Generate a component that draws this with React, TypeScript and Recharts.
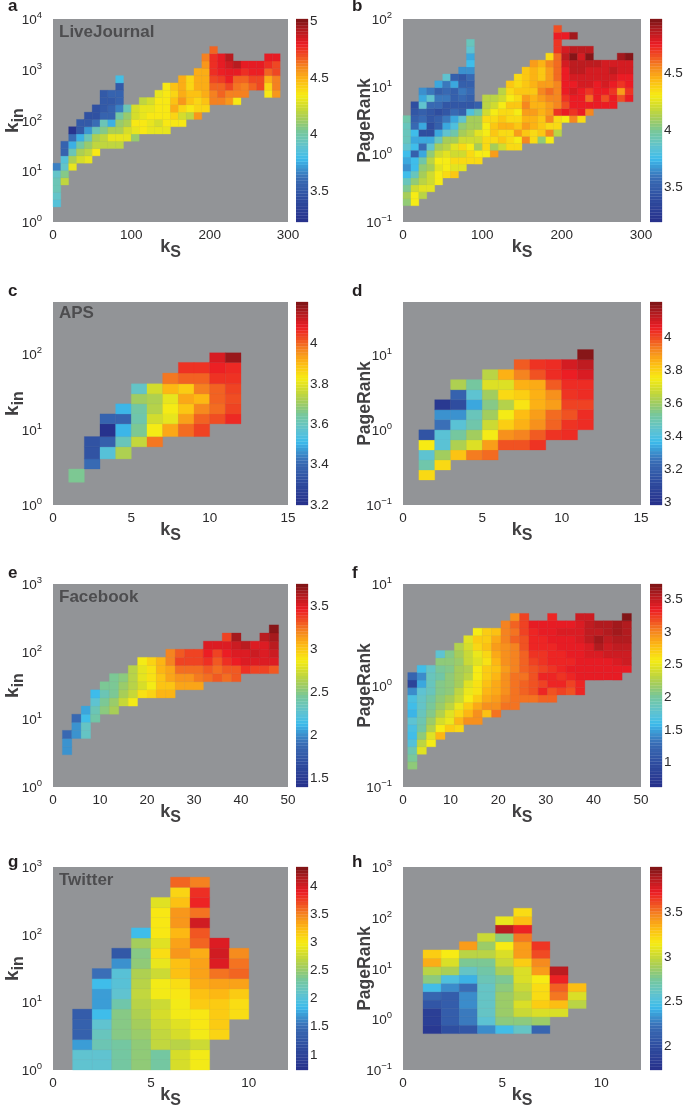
import React from "react";
import { ScatterChart, XAxis, YAxis, ReferenceArea } from "recharts";

type Col = [number, number, number[]]; // column index, first row index, values going up

const FONT = "Liberation Sans";
const GRAY = "#929497";
const TEXT = "#2b2a2b";
const LABEL = "#414042";

// colours as printed in the colour bars (jet, after the journal's colour conversion)
const JET: [number, string][] = [
  [0, "#27318c"], [0.12, "#2f4ea0"], [0.22, "#3a6fb7"], [0.31, "#3cbcec"], [0.37, "#60c3d0"],
  [0.44, "#74c7a0"], [0.51, "#a5cd5a"], [0.58, "#d8de28"], [0.625, "#f7ec14"], [0.7, "#fdb913"],
  [0.77, "#f58220"], [0.83, "#ef4423"], [0.875, "#ec1c24"], [0.94, "#b71c20"], [1, "#7b1416"],
];
const BAR_LEVELS = 64;

const hex = (s: string) => [1, 3, 5].map(i => parseInt(s.slice(i, i + 2), 16));
const jet = (t: number) => {
  const v = Math.min(1, Math.max(0, t));
  for (let i = 1; i < JET.length; i++) {
    if (v <= JET[i][0]) {
      const f = (v - JET[i - 1][0]) / (JET[i][0] - JET[i - 1][0]);
      const a = hex(JET[i - 1][1]);
      const b = hex(JET[i][1]);
      return `rgb(${a.map((c, k) => Math.round(c + (b[k] - c) * f)).join(",")})`;
    }
  }
  return JET[JET.length - 1][1];
};

// a: LiveJournal
const aEdges = [1.98, 2.76, 3.84, 5.35, 7.44, 10.4, 14.4, 20.1, 28, 39, 54.2, 75.5, 105, 146, 204, 284, 395, 550, 766, 1067, 1485, 2068, 2880];
const aCols: Col[] = [
  [0, 0, [3.85, 3.9, 3.95, 3.95, 3.9, 3.65]],
  [1, 3, [4.2, 4.05, 3.9, 3.85, 3.55, 3.55]],
  [2, 5, [4.3, 4.15, 3.95, 3.75, 3.6, 3.25]],
  [3, 6, [4.25, 4.15, 4.0, 3.75, 3.5, 3.5]],
  [4, 6, [4.3, 4.2, 4.1, 3.95, 3.7, 3.5, 3.45]],
  [5, 7, [4.35, 4.2, 4.15, 3.95, 3.6, 3.45, 3.45]],
  [6, 8, [4.2, 4.2, 4.05, 3.95, 3.55, 3.5, 3.5, 3.5]],
  [7, 8, [4.2, 4.3, 4.15, 3.75, 3.55, 3.55, 3.5, 3.55]],
  [8, 8, [4.2, 4.3, 4.15, 4.1, 4.0, 3.65, 3.55, 3.55, 3.5, 3.8]],
  [9, 9, [4.3, 4.25, 4.15, 4.1, 3.95]],
  [10, 9, [4.1, 4.3, 4.35, 4.25, 4.25]],
  [11, 10, [4.35, 4.35, 4.3, 4.3, 4.2]],
  [12, 10, [4.3, 4.3, 4.35, 4.3, 4.25]],
  [13, 10, [4.3, 4.25, 4.35, 4.35, 4.35, 4.3]],
  [14, 10, [4.3, 4.35, 4.35, 4.35, 4.35, 4.35, 4.35]],
  [15, 11, [4.35, 4.4, 4.5, 4.45, 4.4, 4.45]],
  [16, 11, [4.35, 4.25, 4.4, 4.55, 4.5, 4.5, 4.5]],
  [17, 12, [4.2, 4.35, 4.45, 4.45, 4.4, 4.4]],
  [18, 12, [4.55, 4.4, 4.4, 4.45, 4.5, 4.5, 4.5]],
  [19, 13, [4.4, 4.45, 4.5, 4.5, 4.5, 4.5, 4.55, 4.6]],
  [20, 14, [4.6, 4.6, 4.65, 4.7, 4.75, 4.75, 4.75, 4.65]],
  [21, 14, [4.6, 4.65, 4.65, 4.72, 4.78, 4.8, 4.8]],
  [22, 14, [4.55, 4.6, 4.7, 4.78, 4.8, 4.85, 4.9]],
  [23, 14, [4.35, 4.6, 4.62, 4.65, 4.8, 4.9]],
  [24, 15, [4.6, 4.6, 4.65, 4.75, 4.8]],
  [25, 16, [4.65, 4.7, 4.78, 4.8]],
  [26, 16, [4.7, 4.7, 4.78, 4.8]],
  [27, 15, [4.35, 4.4, 4.5, 4.65, 4.75, 4.8]],
  [28, 15, [4.55, 4.6, 4.6, 4.7, 4.7, 4.8]],
];

// b: LiveJournal PageRank
const bEdges = [0.174, 0.22, 0.279, 0.353, 0.447, 0.566, 0.717, 0.907, 1.149, 1.455, 1.842, 2.33, 2.95, 3.74, 4.73, 5.99, 7.58, 9.6, 12.2, 15.4, 19.5, 24.7, 31.3, 39.6, 50.1, 63.5, 80.4];
const bCols: Col[] = [
  [0, 0, [4.05, 4.1, 4.0, 3.9, 3.75, 3.65, 3.7, 3.75, 3.85, 3.9, 3.9, 3.9, 3.95]],
  [1, 0, [4.3, 4.3, 4.2, 4.05, 3.9, 3.75, 3.75, 3.5, 3.75, 3.7, 3.75, 3.55, 3.5, 3.45, 3.4]],
  [2, 1, [4.15, 4.25, 4.15, 4.1, 4.05, 3.95, 3.7, 3.55, 3.7, 3.4, 3.7, 3.55, 3.5, 3.85, 3.7, 3.65]],
  [3, 2, [4.25, 4.2, 4.2, 4.1, 4.15, 4.05, 3.85, 3.7, 3.4, 3.4, 3.45, 3.45, 3.55, 3.85, 3.6]],
  [4, 3, [4.3, 4.3, 4.25, 4.3, 4.2, 4.1, 3.9, 3.7, 3.5, 3.5, 3.4, 3.55, 3.6, 3.5, 3.7]],
  [5, 4, [4.35, 4.3, 4.3, 4.25, 4.15, 4.1, 3.85, 3.7, 3.6, 3.45, 3.45, 3.6, 3.55, 3.6, 3.85]],
  [6, 4, [4.4, 4.25, 4.35, 4.2, 4.25, 4.1, 3.95, 3.8, 3.7, 3.55, 3.45, 3.5, 3.5, 3.7, 3.5]],
  [7, 5, [4.25, 4.35, 4.2, 4.35, 4.2, 4.1, 4.05, 3.85, 3.5, 3.45, 3.55, 3.6, 3.5, 3.45, 3.65]],
  [8, 6, [4.35, 4.35, 4.3, 4.2, 4.15, 4.1, 4.1, 3.8, 3.45, 3.5, 3.55, 3.5, 3.55, 3.65, 3.75, 3.7, 3.85, 3.9]],
  [9, 6, [4.35, 4.3, 4.1, 4.2, 4.25, 4.1, 4.1, 3.95, 3.5]],
  [10, 7, [4.3, 4.35, 4.35, 4.3, 4.3, 4.35, 4.2, 4.15, 4.15]],
  [11, 7, [4.5, 4.1, 4.35, 4.4, 4.4, 4.35, 4.3, 4.2, 4.15]],
  [12, 8, [4.2, 4.4, 4.35, 4.45, 4.4, 4.35, 4.3, 4.2, 4.15]],
  [13, 8, [4.35, 4.35, 4.35, 4.45, 4.35, 4.35, 4.4, 4.3, 4.35, 4.4]],
  [14, 8, [4.35, 4.3, 4.5, 4.4, 4.35, 4.3, 4.4, 4.35, 4.4, 4.35, 4.35]],
  [15, 9, [4.55, 4.4, 4.5, 4.45, 4.5, 4.55, 4.5, 4.4, 4.4, 4.4, 4.4]],
  [16, 9, [4.35, 4.35, 4.45, 4.45, 4.5, 4.45, 4.45, 4.4, 4.45, 4.45, 4.45, 4.5]],
  [17, 9, [4.05, 4.4, 4.4, 4.4, 4.45, 4.45, 4.5, 4.55, 4.5, 4.4, 4.4, 4.45]],
  [18, 9, [4.3, 4.55, 4.35, 4.55, 4.5, 4.5, 4.55, 4.6, 4.5, 4.5, 4.5, 4.55, 4.35]],
  [19, 10, [4.15, 4.35, 4.35, 4.7, 4.55, 4.55, 4.55, 4.55, 4.6, 4.6, 4.6, 4.6, 4.7, 4.7, 4.75, 4.65]],
  [20, 12, [4.3, 4.75, 4.65, 4.7, 4.75, 4.75, 4.75, 4.75, 4.8, 4.85, 4.8]],
  [20, 24, [4.75]],
  [21, 12, [4.55, 4.7, 4.75, 4.75, 4.8, 4.75, 4.8, 4.85, 4.85, 4.95, 4.85]],
  [21, 24, [4.9]],
  [22, 12, [4.35, 4.75, 4.75, 4.75, 4.75, 4.8, 4.8, 4.85, 4.85, 4.8, 4.85]],
  [23, 13, [4.55, 4.75, 4.6, 4.7, 4.8, 4.8, 4.8, 4.85, 4.95, 4.85]],
  [24, 14, [4.75, 4.75, 4.75, 4.75, 4.8, 4.8, 4.85]],
  [25, 14, [4.75, 4.65, 4.75, 4.8, 4.8, 4.8, 4.8]],
  [26, 14, [4.75, 4.75, 4.7, 4.75, 4.8, 4.85, 4.8]],
  [27, 15, [4.65, 4.5, 4.7, 4.75, 4.8, 4.8, 4.9]],
  [28, 15, [4.75, 4.7, 4.75, 4.75, 4.8, 4.8, 4.95]],
];

// c: APS
const cEdges = [2, 3, 4.08, 5.9, 8.07, 11.9, 16.1, 21.9, 29.7, 40.4, 56, 77.5, 104];
const cCols: Col[] = [
  [1, 0, [3.65]],
  [2, 1, [3.4, 3.33, 3.33]],
  [3, 2, [3.55, 3.37, 3.2, 3.38]],
  [4, 2, [3.72, 3.6, 3.5, 3.38, 3.5]],
  [5, 3, [3.75, 3.65, 3.62, 3.63, 3.7, 3.58]],
  [6, 3, [3.98, 3.82, 3.77, 3.73, 3.72, 3.77]],
  [7, 4, [3.92, 3.8, 3.82, 3.8, 3.9, 3.98]],
  [8, 4, [3.99, 3.93, 3.88, 3.92, 3.87, 4.0, 4.05]],
  [9, 4, [4.03, 4.0, 3.96, 3.9, 3.97, 4.0, 4.05]],
  [10, 5, [4.02, 3.99, 4.0, 4.0, 4.05, 4.07, 4.1]],
  [11, 5, [4.06, 4.03, 4.02, 4.03, 4.05, 4.06, 4.17]],
];

// d: APS PageRank
const dEdges = [0.215, 0.292, 0.397, 0.539, 0.733, 1, 1.36, 1.85, 2.51, 3.41, 4.64, 6.31, 8.58, 11.66];
const dCols: Col[] = [
  [1, 0, [3.78, 3.5, 3.43, 3.75, 3.15]],
  [2, 1, [3.78, 3.6, 3.42, 3.42, 3.25, 3.3, 3.02]],
  [3, 2, [3.82, 3.62, 3.52, 3.42, 3.3, 3.12, 3.2, 3.62]],
  [4, 2, [3.93, 3.7, 3.6, 3.5, 3.47, 3.33, 3.43, 3.52]],
  [5, 2, [3.95, 3.88, 3.74, 3.67, 3.6, 3.55, 3.6, 3.7, 3.64]],
  [6, 3, [3.98, 3.9, 3.8, 3.74, 3.63, 3.78, 3.7, 3.85]],
  [7, 3, [3.98, 3.92, 3.85, 3.83, 3.76, 3.8, 3.85, 3.92, 3.97]],
  [8, 3, [4.02, 3.97, 3.9, 3.88, 3.85, 3.85, 3.86, 3.98, 4.02]],
  [9, 4, [4.02, 3.96, 3.95, 3.88, 3.9, 3.97, 4.03, 4.03]],
  [10, 4, [4.03, 4.02, 3.98, 4.0, 4.02, 4.03, 4.05, 4.09]],
  [11, 5, [4.03, 4.03, 4.0, 4.03, 4.03, 4.08, 4.12, 4.19]],
];

// e: Facebook
const eEdges = [3, 3.95, 5.21, 6.87, 9.05, 11.9, 15.7, 20.7, 27.3, 36, 47.4, 62.5, 82.4, 108.6, 143, 188.6, 248.6];
const eCols: Col[] = [
  [1, 0, [2.0, 2.0, 1.85]],
  [2, 2, [2.0, 2.0, 1.85]],
  [3, 2, [2.3, 2.3, 2.13, 2.05]],
  [4, 4, [2.4, 2.35, 2.25, 2.12]],
  [5, 5, [2.5, 2.45, 2.35, 2.45]],
  [6, 5, [2.6, 2.55, 2.45, 2.45, 2.45]],
  [7, 6, [2.7, 2.6, 2.55, 2.5]],
  [8, 6, [2.85, 2.7, 2.65, 2.65, 2.65]],
  [9, 7, [2.9, 2.75, 2.8, 2.8, 2.85]],
  [10, 7, [2.95, 2.85, 2.9, 2.9, 2.95]],
  [11, 7, [3.05, 3.0, 3.0, 3.05, 3.05]],
  [12, 7, [3.05, 3.0, 3.1, 3.1, 3.2, 3.2]],
  [13, 8, [3.1, 3.15, 3.25, 3.35, 3.3]],
  [14, 8, [3.1, 3.15, 3.25, 3.35, 3.35]],
  [15, 8, [3.1, 3.22, 3.25, 3.35, 3.35]],
  [16, 9, [3.25, 3.3, 3.4, 3.45, 3.5]],
  [17, 9, [3.3, 3.25, 3.3, 3.35, 3.5]],
  [18, 9, [3.25, 3.3, 3.4, 3.45, 3.5, 3.35]],
  [19, 9, [3.3, 3.3, 3.45, 3.5, 3.55, 3.65]],
  [20, 10, [3.4, 3.5, 3.5, 3.6]],
  [21, 10, [3.35, 3.5, 3.55, 3.5]],
  [22, 10, [3.35, 3.5, 3.5, 3.5, 3.6]],
  [23, 10, [3.3, 3.5, 3.55, 3.6, 3.65, 3.72]],
];

// f: Facebook PageRank
const fEdges = [0.15, 0.178, 0.21, 0.249, 0.294, 0.348, 0.412, 0.487, 0.576, 0.682, 0.807, 0.954, 1.13, 1.34, 1.58, 1.87, 2.21, 2.62, 3.1, 3.67, 4.34, 5.13];
const fCols: Col[] = [
  [0, 0, [2.1, 2.0, 1.9, 1.7, 1.6, 1.65, 1.75, 1.55, 1.6, 1.65, 1.4, 0.85, 1.2]],
  [1, 2, [2.45, 2.3, 2.1, 1.95, 1.9, 1.85, 1.8, 1.8, 1.75, 1.5, 1.4, 1.6]],
  [2, 3, [2.55, 2.45, 2.25, 2.15, 2.05, 2.0, 1.95, 1.85, 1.85, 1.85, 1.8]],
  [3, 4, [2.8, 2.55, 2.4, 2.25, 2.15, 2.1, 2.05, 2.05, 1.95, 2.0, 2.1, 1.75]],
  [4, 5, [2.7, 2.5, 2.45, 2.3, 2.2, 2.1, 2.1, 2.1, 2.05, 2.1, 2.05]],
  [5, 5, [2.65, 2.8, 2.65, 2.5, 2.35, 2.3, 2.2, 2.2, 2.2, 2.15, 2.2, 2.25]],
  [6, 6, [2.95, 2.8, 2.7, 2.55, 2.5, 2.45, 2.3, 2.25, 2.35, 2.35, 2.4, 2.45]],
  [7, 6, [2.95, 2.95, 2.85, 2.7, 2.6, 2.6, 2.55, 2.55, 2.45, 2.5, 2.65, 2.7, 2.55]],
  [8, 7, [2.75, 2.95, 2.85, 2.8, 2.75, 2.7, 2.7, 2.6, 2.65, 2.75, 2.7, 2.7]],
  [9, 7, [3.05, 2.95, 2.9, 2.85, 2.85, 2.8, 2.75, 2.8, 2.85, 2.9, 2.85, 2.75]],
  [10, 8, [3.05, 3.0, 2.95, 2.95, 2.95, 2.9, 2.95, 2.95, 2.95, 3.0, 3.0, 3.0]],
  [11, 8, [3.05, 3.05, 3.05, 3.05, 3.05, 3.0, 3.0, 3.0, 3.0, 3.1, 3.05, 3.1, 2.95]],
  [12, 9, [3.05, 3.1, 3.1, 3.05, 3.1, 3.1, 3.1, 3.15, 3.15, 3.2, 3.2, 3.2]],
  [13, 9, [3.05, 3.15, 3.15, 3.15, 3.15, 3.2, 3.25, 3.3, 3.3, 3.3, 3.35]],
  [14, 9, [3.1, 3.3, 3.2, 3.3, 3.2, 3.25, 3.25, 3.3, 3.3, 3.35, 3.35]],
  [15, 9, [3.1, 3.15, 3.3, 3.3, 3.25, 3.3, 3.3, 3.3, 3.35, 3.35, 3.35, 3.3]],
  [16, 10, [3.2, 3.3, 3.25, 3.3, 3.3, 3.3, 3.35, 3.35, 3.4, 3.35]],
  [17, 10, [3.15, 3.2, 3.3, 3.35, 3.3, 3.35, 3.35, 3.35, 3.4, 3.35]],
  [18, 10, [3.3, 3.3, 3.35, 3.35, 3.35, 3.35, 3.35, 3.4, 3.4, 3.4, 3.45]],
  [19, 12, [3.35, 3.35, 3.35, 3.4, 3.4, 3.5, 3.5, 3.5, 3.45]],
  [20, 12, [3.35, 3.35, 3.35, 3.4, 3.55, 3.6, 3.5, 3.55]],
  [21, 12, [3.35, 3.35, 3.35, 3.45, 3.45, 3.5, 3.55, 3.55]],
  [22, 12, [3.35, 3.35, 3.4, 3.45, 3.5, 3.55, 3.6, 3.6]],
  [23, 13, [3.35, 3.45, 3.45, 3.5, 3.55, 3.55, 3.55, 3.7]],
];

// g: Twitter
const gEdges = [1, 1.413, 1.995, 2.82, 3.98, 5.62, 7.94, 11.2, 15.8, 22.4, 31.6, 44.7, 63.1, 89.1, 126, 178, 251, 355, 501, 708];
const gCols: Col[] = [
  [1, 0, [2.05, 2.05, 1.7, 1.35, 1.35, 1.3]],
  [2, 0, [2.05, 2.05, 2.2, 2.15, 2.05, 1.85, 1.7, 1.7, 1.85, 1.5]],
  [3, 0, [2.3, 2.3, 2.3, 2.4, 2.4, 2.4, 2.25, 2.05, 2.0, 2.0, 1.65, 1.25]],
  [4, 0, [2.45, 2.45, 2.45, 2.5, 2.55, 2.6, 2.65, 2.7, 2.65, 2.6, 2.45, 2.4, 2.55, 1.85]],
  [5, 0, [2.3, 2.3, 2.7, 2.7, 2.75, 2.8, 2.75, 2.95, 2.95, 2.75, 2.9, 3.05, 2.85, 3.0, 3.0, 3.0, 2.85]],
  [6, 0, [2.8, 2.8, 2.65, 2.8, 2.85, 2.95, 2.95, 3.0, 3.05, 3.2, 3.2, 3.4, 3.35, 3.25, 3.4, 3.4, 3.2, 3.1, 3.6]],
  [7, 0, [2.95, 2.95, 2.75, 2.95, 3.0, 3.0, 3.15, 3.2, 3.3, 3.35, 3.35, 3.3, 3.6, 3.65, 4.0, 3.55, 3.85, 3.8, 3.5]],
  [8, 3, [3.1, 3.15, 3.15, 3.15, 3.25, 3.35, 3.55, 3.95, 4.0, 3.95]],
  [9, 5, [3.05, 3.05, 3.15, 3.35, 3.6, 3.55, 3.45]],
];

// h: Twitter PageRank
const hEdges = [0.522, 0.763, 1.115, 1.63, 2.38, 3.48, 5.08, 7.43, 10.85, 15.9, 23.2, 33.8, 49.4, 72.2, 105.5, 154];
const hCols: Col[] = [
  [0, 0, [1.8, 1.85, 1.85, 2.05, 2.15, 2.45, 2.8, 2.95, 3.35, 3.25]],
  [1, 0, [2.0, 2.1, 2.1, 2.1, 2.1, 2.3, 2.5, 2.9, 3.05, 3.15]],
  [2, 0, [2.05, 2.25, 2.25, 2.3, 2.3, 2.2, 2.4, 2.6, 2.75, 2.95, 3.4]],
  [3, 0, [2.3, 2.55, 2.6, 2.6, 2.6, 2.6, 2.65, 2.7, 2.75, 2.95, 2.85, 3.0]],
  [4, 0, [2.45, 2.8, 2.85, 2.85, 2.85, 2.8, 2.75, 2.9, 3.0, 3.05, 3.15, 2.8, 3.85, 3.1]],
  [5, 0, [2.6, 2.8, 3.0, 3.05, 2.95, 3.0, 3.05, 3.05, 3.25, 3.4, 3.4, 3.5, 3.7, 3.3, 3.2]],
  [6, 0, [2.15, 2.85, 3.05, 3.25, 3.2, 3.2, 3.15, 3.4, 3.45, 3.6, 3.65]],
  [7, 2, [3.05, 3.3, 3.5, 3.55, 3.7, 3.85]],
  [8, 3, [2.95, 3.05, 3.3]],
];

interface PanelDef {
  id: string;
  left: number;
  top: number;
  width: number;
  barLeft: number;
  letter: string;
  letterY: number;
  title?: string;
  titleY?: number;
  yLabel: "kin" | "PageRank";
  xTicks: number[];
  xMax: number;
  yTicks: number[];
  yDomain: [number, number];
  xStart: number;
  xWidth: number;
  edges: number[];
  cols: Col[];
  cMin: number;
  cMax: number;
  cTicks: number[];
}

const PLOT_H = 203;
const PAD_LEFT = 53;
const PAD_TOP = 30;
const PAD_RIGHT = 24;

const logTick = (props: any) => {
  const { x, y, payload } = props;
  const exp = Math.round(Math.log10(payload.value));
  return (
    <text x={x - 3} y={y + 5} textAnchor="end" fontFamily={FONT} fontSize={13.5} fill={TEXT}>
      <tspan>10</tspan>
      <tspan dy={-6} fontSize={9.5}>{exp < 0 ? `\u2212${-exp}` : exp}</tspan>
    </text>
  );
};

const Panel: React.FC<{ p: PanelDef }> = ({ p }) => {
  const cells: React.ReactNode[] = [];
  p.cols.forEach(([col, row, values]) => {
    values.forEach((v, i) => {
      const fill = jet((v - p.cMin) / (p.cMax - p.cMin));
      cells.push(
        <ReferenceArea
          key={`${col}-${row + i}`}
          x1={p.xStart + col * p.xWidth}
          x2={p.xStart + (col + 1) * p.xWidth}
          y1={p.edges[row + i]}
          y2={p.edges[row + i + 1]}
          fill={fill}
          fillOpacity={1}
          stroke={fill}
          strokeWidth={0.3}
          ifOverflow="visible"
        />
      );
    });
  });
  const strips: React.ReactNode[] = [];
  for (let i = 0; i < BAR_LEVELS; i++) {
    const fill = jet((i + 0.5) / BAR_LEVELS);
    strips.push(
      <ReferenceArea
        key={i}
        x1={0}
        x2={1}
        y1={p.cMin + (i / BAR_LEVELS) * (p.cMax - p.cMin)}
        y2={p.cMin + ((i + 1) / BAR_LEVELS) * (p.cMax - p.cMin)}
        fill={fill}
        fillOpacity={1}
        stroke={fill}
        strokeWidth={0.3}
        ifOverflow="visible"
      />
    );
  }
  const cx = PAD_LEFT + p.width / 2;
  const cy = PAD_TOP + PLOT_H / 2;
  const labelX = p.yLabel === "kin" ? 17.5 : 20;
  return (
    <>
      <div style={{ position: "absolute", left: p.left, top: p.top, width: p.width, height: PLOT_H, background: GRAY }} />
      <div style={{ position: "absolute", left: p.left - PAD_LEFT, top: p.top - PAD_TOP }}>
        <ScatterChart
          width={p.width + PAD_LEFT + PAD_RIGHT}
          height={PLOT_H + PAD_TOP + 50}
          margin={{ top: PAD_TOP, right: PAD_RIGHT, bottom: 0, left: 0 }}
        >
          <XAxis
            type="number"
            dataKey="x"
            domain={[0, p.xMax]}
            ticks={p.xTicks}
            interval={0}
            allowDataOverflow
            height={50}
            axisLine={false}
            tickLine={false}
            tickSize={0}
            tickMargin={7}
            tick={{ fontFamily: FONT, fontSize: 13.5, fill: TEXT }}
          />
          <YAxis
            type="number"
            dataKey="y"
            scale="log"
            domain={p.yDomain}
            ticks={p.yTicks}
            interval={0}
            allowDataOverflow
            width={PAD_LEFT}
            axisLine={false}
            tickLine={false}
            tick={logTick}
          />
          {cells}
          {p.title && (
            <text x={PAD_LEFT + 6} y={PAD_TOP + (p.titleY ?? 18)} fontFamily={FONT} fontWeight="bold" fontSize={17} fill="#4d4d4f">
              {p.title}
            </text>
          )}
          <text x={p.left === 53 ? 8 : 2} y={p.letterY + PAD_TOP - 20} fontFamily={FONT} fontWeight="bold" fontSize={17} fill="#231f20">
            {p.letter}
          </text>
          <text x={cx} y={PAD_TOP + PLOT_H + 30} textAnchor="middle" fontFamily={FONT} fontWeight="bold" fontSize={18} fill={LABEL}>
            <tspan>k</tspan>
            <tspan dy={5} fontSize={16}>S</tspan>
          </text>
          {p.yLabel === "kin" ? (
            <text x={labelX} y={cy} transform={`rotate(-90 ${labelX} ${cy})`} textAnchor="middle" fontFamily={FONT} fontWeight="bold" fontSize={19} fill={LABEL}>
              <tspan>k</tspan>
              <tspan dy={5} fontSize={16}>in</tspan>
            </text>
          ) : (
            <text x={labelX} y={cy} transform={`rotate(-90 ${labelX} ${cy})`} textAnchor="middle" fontFamily={FONT} fontWeight="bold" fontSize={17.5} fill={LABEL}>
              PageRank
            </text>
          )}
        </ScatterChart>
      </div>
      <div style={{ position: "absolute", left: p.barLeft, top: p.top - 10 }}>
        <ScatterChart width={52} height={PLOT_H + 20} margin={{ top: 10, right: 0, bottom: 10, left: 0 }}>
          <XAxis type="number" dataKey="x" domain={[0, 1]} allowDataOverflow hide height={0} />
          <YAxis
            type="number"
            dataKey="y"
            orientation="right"
            domain={[p.cMin, p.cMax]}
            ticks={p.cTicks}
            interval={0}
            allowDataOverflow
            width={40}
            axisLine={false}
            tickLine={false}
            tickMargin={2}
            tickSize={0}
            tick={{ fontFamily: FONT, fontSize: 13.5, fill: TEXT, textAnchor: "start" }}
          />
          {strips}
        </ScatterChart>
      </div>
    </>
  );
};

const panels: PanelDef[] = [
  { id: "a", left: 53, top: 19, width: 235, barLeft: 296, letter: "a", letterY: 12, title: "LiveJournal", yLabel: "kin", xTicks: [0, 100, 200, 300], xMax: 300, yTicks: [1, 10, 100, 1000, 10000], yDomain: [1, 10000], xStart: 0, xWidth: 10, edges: aEdges, cols: aCols, cMin: 3.22, cMax: 5.01, cTicks: [3.5, 4, 4.5, 5] },
  { id: "b", left: 403, top: 19, width: 238, barLeft: 650, letter: "b", letterY: 12, yLabel: "PageRank", xTicks: [0, 100, 200, 300], xMax: 300, yTicks: [0.1, 1, 10, 100], yDomain: [0.1, 100], xStart: 0, xWidth: 10, edges: bEdges, cols: bCols, cMin: 3.19, cMax: 4.97, cTicks: [3.5, 4, 4.5] },
  { id: "c", left: 53, top: 302, width: 235, barLeft: 296, letter: "c", letterY: 14, title: "APS", titleY: 16, yLabel: "kin", xTicks: [0, 5, 10, 15], xMax: 15, yTicks: [1, 10, 100], yDomain: [1, 490], xStart: 0, xWidth: 1, edges: cEdges, cols: cCols, cMin: 3.195, cMax: 4.2, cTicks: [3.2, 3.4, 3.6, 3.8, 4] },
  { id: "d", left: 403, top: 302, width: 238, barLeft: 650, letter: "d", letterY: 14, yLabel: "PageRank", xTicks: [0, 5, 10, 15], xMax: 15, yTicks: [0.1, 1, 10], yDomain: [0.1, 50], xStart: 0, xWidth: 1, edges: dEdges, cols: dCols, cMin: 2.98, cMax: 4.205, cTicks: [3, 3.2, 3.4, 3.6, 3.8, 4] },
  { id: "e", left: 53, top: 584, width: 235, barLeft: 296, letter: "e", letterY: 14, title: "Facebook", yLabel: "kin", xTicks: [0, 10, 20, 30, 40, 50], xMax: 50, yTicks: [1, 10, 100, 1000], yDomain: [1, 1000], xStart: 0, xWidth: 2, edges: eEdges, cols: eCols, cMin: 1.38, cMax: 3.75, cTicks: [1.5, 2, 2.5, 3, 3.5] },
  { id: "f", left: 403, top: 584, width: 238, barLeft: 650, letter: "f", letterY: 14, yLabel: "PageRank", xTicks: [0, 10, 20, 30, 40, 50], xMax: 50, yTicks: [0.1, 1, 10], yDomain: [0.1, 10], xStart: 1, xWidth: 1.958, edges: fEdges, cols: fCols, cMin: 0.61, cMax: 3.72, cTicks: [1, 1.5, 2, 2.5, 3, 3.5] },
  { id: "g", left: 53, top: 867, width: 235, barLeft: 296, letter: "g", letterY: 20, title: "Twitter", yLabel: "kin", xTicks: [0, 5, 10], xMax: 12, yTicks: [1, 10, 100, 1000], yDomain: [1, 1000], xStart: 0, xWidth: 1, edges: gEdges, cols: gCols, cMin: 0.71, cMax: 4.33, cTicks: [1, 1.5, 2, 2.5, 3, 3.5, 4] },
  { id: "h", left: 403, top: 867, width: 238, barLeft: 650, letter: "h", letterY: 20, yLabel: "PageRank", xTicks: [0, 5, 10], xMax: 12, yTicks: [0.1, 1, 10, 100, 1000], yDomain: [0.1, 1000], xStart: 1.01, xWidth: 0.914, edges: hEdges, cols: hCols, cMin: 1.72, cMax: 4.0, cTicks: [2, 2.5, 3, 3.5] },
];

export default function App() {
  return (
    <div style={{ position: "absolute", left: 0, top: 0, width: 685, height: 1112, overflow: "hidden", background: "#fff", filter: "blur(0.35px)" }}>
      {panels.map(p => (
        <Panel key={p.id} p={p} />
      ))}
    </div>
  );
}
